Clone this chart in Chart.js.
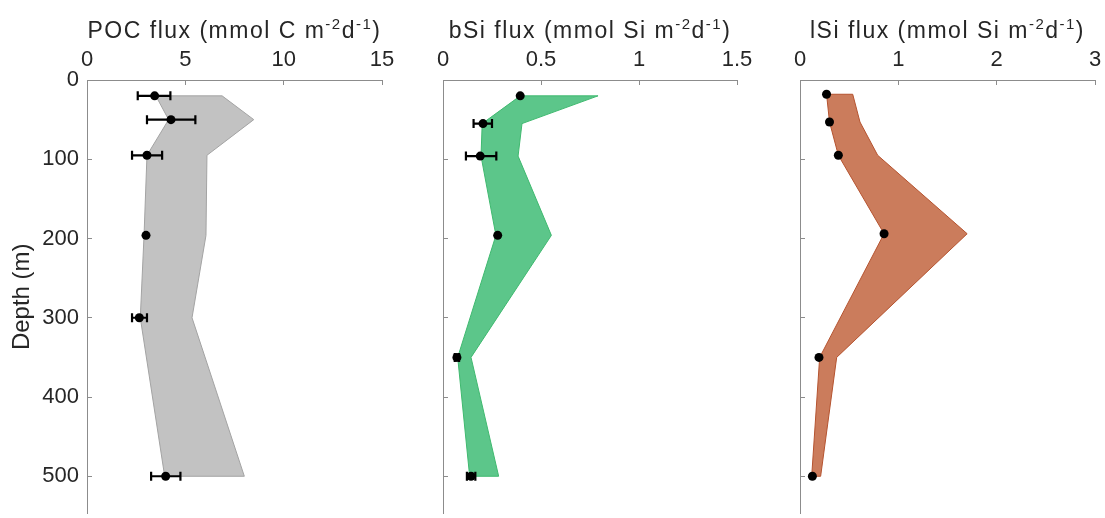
<!DOCTYPE html>
<html>
<head>
<meta charset="utf-8">
<script src="https://cdn.jsdelivr.net/npm/chart.js@4"></script>
<style>
  body { margin: 0; background: #fff; width: 1105px; height: 518px; overflow: hidden; position: relative; }
  .panel { position: absolute; top: 0; }
  canvas { display: block; }
</style>
</head>
<body>
<div class="panel" style="left:0px"><canvas id="poc-chart" width="402" height="518"></canvas></div>
<div class="panel" style="left:420px"><canvas id="bsi-chart" width="337" height="518"></canvas></div>
<div class="panel" style="left:778px"><canvas id="lsi-chart" width="327" height="518"></canvas></div>
<script>
// depth axis, shared by the three panels
const depthTicks = [0, 100, 200, 300, 400, 500];
const depthMax = 547;

// POC flux
const pocDepth = [20, 50, 95, 196, 300, 500];
const pocMean = [3.44, 4.27, 3.05, 3.0, 2.66, 4.0];
const pocErrLow = [2.58, 3.05, 2.29, null, 2.29, 3.26];
const pocErrHigh = [4.24, 5.51, 3.82, null, 3.05, 4.75];
const pocLower = [3.5, 4.15, 3.05, 2.9, 2.71, 3.95];
const pocUpper = [6.87, 8.48, 6.1, 6.05, 5.34, 8.0];
const pocTicks = [0, 5, 10, 15];

// bSi flux
const bsiDepth = [20, 55, 96, 196, 350, 500];
const bsiMean = [0.394, 0.204, 0.19, 0.279, 0.071, 0.143];
const bsiErrLow = [null, 0.156, 0.117, null, 0.06, 0.122];
const bsiErrHigh = [null, 0.25, 0.272, null, 0.082, 0.165];
const bsiLower = [0.394, 0.2, 0.194, 0.27, 0.075, 0.136];
const bsiUpper = [0.791, 0.403, 0.383, 0.553, 0.143, 0.284];
const bsiTicks = [0, 0.5, 1, 1.5];

// lSi flux
const lsiDepth = [18, 53, 95, 194, 350, 500];
const lsiMean = [0.27, 0.30, 0.39, 0.855, 0.193, 0.126];
const lsiErrLow = [null, null, null, null, null, null];
const lsiErrHigh = [null, null, null, null, null, null];
const lsiLower = [0.27, 0.30, 0.39, 0.855, 0.2, 0.119];
const lsiUpper = [0.536, 0.61, 0.79, 1.70, 0.373, 0.21];
const lsiTicks = [0, 1, 2, 3];

const textColor = '#262626';
const axisColor = '#8c8c8c';
const fontFamily = '"Liberation Sans", Arial, Helvetica, sans-serif';

Chart.defaults.font.family = fontFamily;
Chart.defaults.color = textColor;

// outline of the shaded band: down the lower bound, back up the upper bound
function band(depth, lower, upper) {
    const pts = depth.map((d, i) => ({ x: lower[i], y: d }));
    for (let i = depth.length - 1; i >= 0; i--) {
        pts.push({ x: upper[i], y: depth[i] });
    }
    pts.push({ x: lower[0], y: depth[0] });
    return pts;
}

function errorBarPlugin(depth, low, high) {
    return {
        id: 'errorBars',
        afterDatasetsDraw(chart) {
            const { ctx, scales: { x, y } } = chart;
            ctx.save();
            ctx.strokeStyle = '#000';
            ctx.lineWidth = 2.2;
            depth.forEach((d, i) => {
                if (low[i] == null) return;
                const yy = y.getPixelForValue(d);
                const x1 = x.getPixelForValue(low[i]);
                const x2 = x.getPixelForValue(high[i]);
                ctx.beginPath();
                ctx.moveTo(x1, yy); ctx.lineTo(x2, yy);
                ctx.moveTo(x1, yy - 4.5); ctx.lineTo(x1, yy + 4.5);
                ctx.moveTo(x2, yy - 4.5); ctx.lineTo(x2, yy + 4.5);
                ctx.stroke();
            });
            ctx.restore();
        }
    };
}

// axis title with raised exponents, written as m^{-2}
function titlePlugin(title) {
    return {
        id: 'topTitle',
        afterDraw(chart) {
            const { ctx, chartArea } = chart;
            const parts = title.split(/(\^\{[^}]*\})/).filter(Boolean).map(s =>
                s.startsWith('^{') ? { t: s.slice(2, -1), sup: true } : { t: s, sup: false });
            const font = sup => `${sup ? 15 : 23}px ${fontFamily}`;
            ctx.save();
            ctx.fillStyle = textColor;
            ctx.textAlign = 'left';
            ctx.textBaseline = 'alphabetic';
            ctx.letterSpacing = '1.5px';
            let w = 0;
            parts.forEach(p => { ctx.font = font(p.sup); p.w = ctx.measureText(p.t).width; w += p.w; });
            let x = (chartArea.left + chartArea.right) / 2 - w / 2;
            parts.forEach(p => {
                ctx.font = font(p.sup);
                ctx.fillText(p.t, x, p.sup ? 29 : 37.5);
                x += p.w;
            });
            ctx.restore();
        }
    };
}

function makePanel(id, o) {
    const ctx = document.getElementById(id).getContext('2d');
    return new Chart(ctx, {
        type: 'scatter',
        data: {
            datasets: [
                {
                    data: o.depth.map((d, i) => ({ x: o.mean[i], y: d })),
                    pointRadius: 4.5,
                    pointBackgroundColor: '#000',
                    pointBorderWidth: 0,
                    order: 0
                },
                {
                    data: band(o.depth, o.lower, o.upper),
                    showLine: true,
                    fill: 'shape',
                    backgroundColor: o.fill,
                    borderColor: o.edge,
                    borderWidth: 1,
                    pointRadius: 0,
                    tension: 0,
                    order: 1
                }
            ]
        },
        options: {
            responsive: false,
            animation: false,
            layout: { padding: { left: 0, top: 0, right: o.padRight, bottom: 0 } },
            plugins: { legend: { display: false }, tooltip: { enabled: false } },
            scales: {
                x: {
                    type: 'linear',
                    position: 'top',
                    min: o.ticks[0],
                    max: o.ticks[o.ticks.length - 1],
                    afterBuildTicks(s) { s.ticks = o.ticks.map(v => ({ value: v })); },
                    ticks: { font: { size: 22 }, padding: 12, color: textColor, callback: v => String(v) },
                    grid: { drawOnChartArea: false, tickLength: -5, color: axisColor },
                    border: { color: axisColor },
                    afterFit(s) { s.height = 80; s.paddingLeft = 0; s.paddingRight = 0; }
                },
                y: {
                    type: 'linear',
                    reverse: true,
                    min: 0,
                    max: depthMax,
                    afterBuildTicks(s) { s.ticks = depthTicks.map(v => ({ value: v })); },
                    ticks: { display: o.showDepth, font: { size: 22 }, padding: 13, color: textColor },
                    title: {
                        display: o.showDepth, text: 'Depth (m)', color: textColor,
                        font: { size: 24 }, padding: { top: 8, bottom: 0 }
                    },
                    grid: { drawOnChartArea: false, tickLength: -5, color: axisColor },
                    border: { color: axisColor },
                    afterFit(s) { s.width = o.yWidth; s.paddingTop = 0; s.paddingBottom = 0; }
                }
            }
        },
        plugins: [errorBarPlugin(o.depth, o.errLow, o.errHigh), titlePlugin(o.title)]
    });
}

makePanel('poc-chart', {
    title: 'POC flux (mmol C m^{-2}d^{-1})',
    depth: pocDepth, mean: pocMean, errLow: pocErrLow, errHigh: pocErrHigh,
    lower: pocLower, upper: pocUpper, ticks: pocTicks,
    fill: '#c2c2c2', edge: '#a3a3a3',
    showDepth: true, yWidth: 87, padRight: 20
});

makePanel('bsi-chart', {
    title: 'bSi flux (mmol Si m^{-2}d^{-1})',
    depth: bsiDepth, mean: bsiMean, errLow: bsiErrLow, errHigh: bsiErrHigh,
    lower: bsiLower, upper: bsiUpper, ticks: bsiTicks,
    fill: '#5cc68a', edge: '#3fb96f',
    showDepth: false, yWidth: 23, padRight: 20
});

makePanel('lsi-chart', {
    title: 'lSi flux (mmol Si m^{-2}d^{-1})',
    depth: lsiDepth, mean: lsiMean, errLow: lsiErrLow, errHigh: lsiErrHigh,
    lower: lsiLower, upper: lsiUpper, ticks: lsiTicks,
    fill: '#cb7c5c', edge: '#b5532f',
    showDepth: false, yWidth: 22, padRight: 10
});
</script>
</body>
</html>
